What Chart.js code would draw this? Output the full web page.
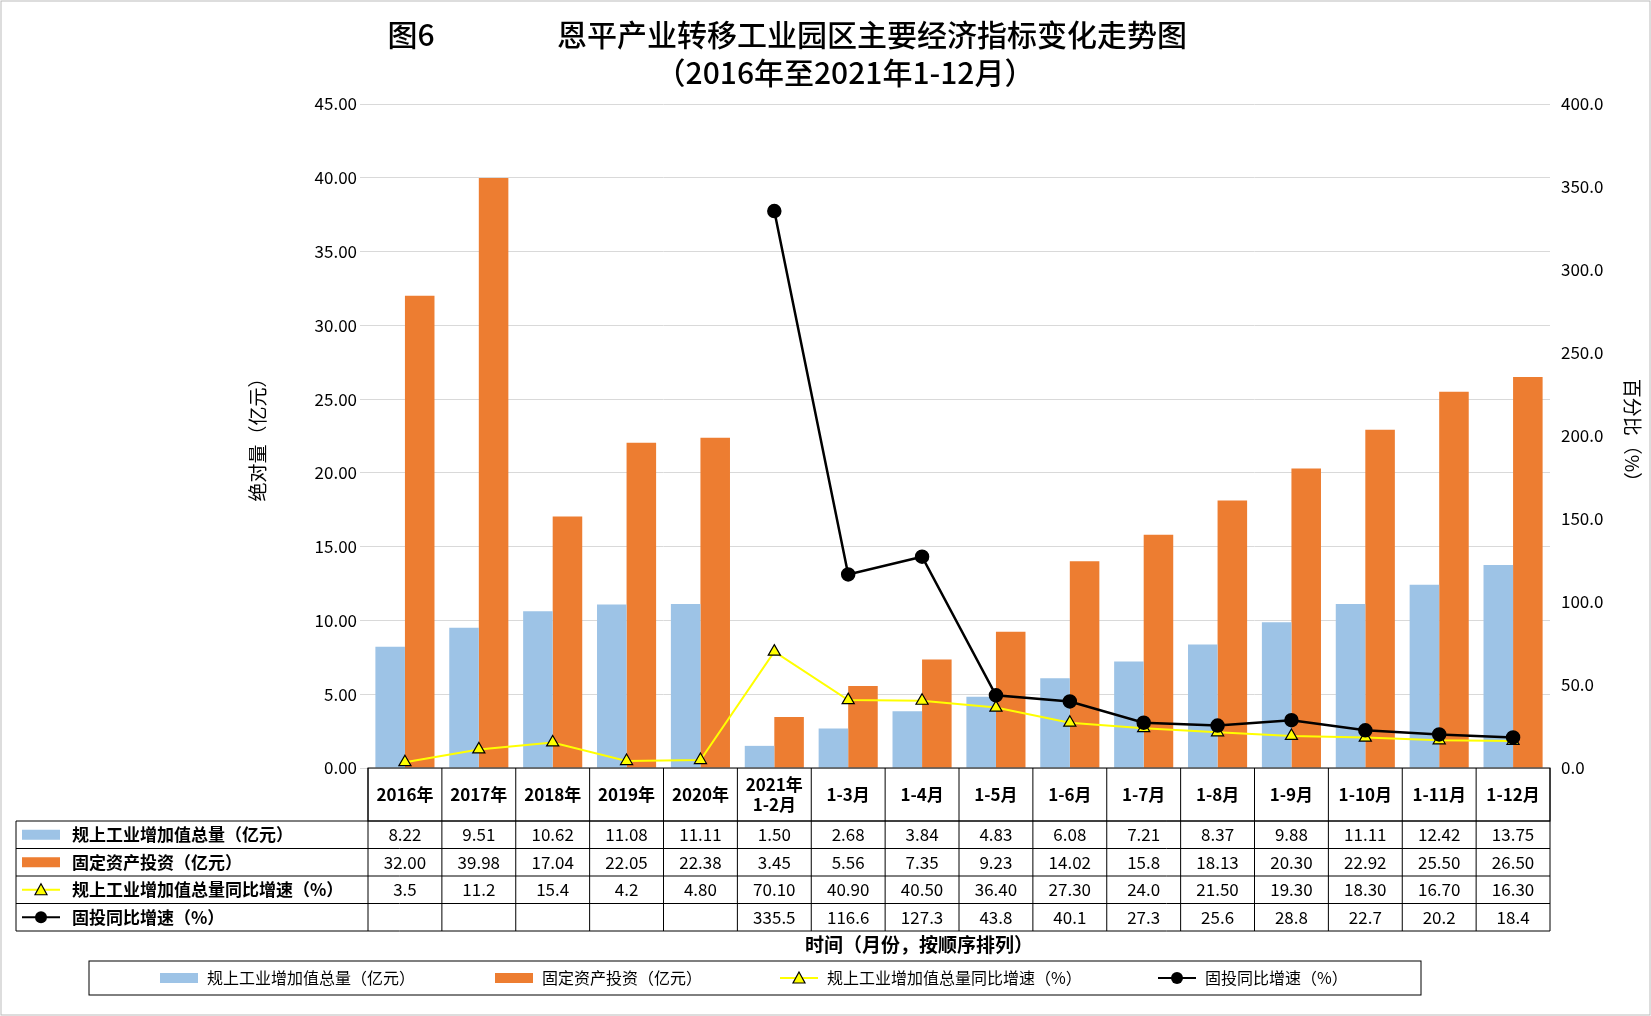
<!DOCTYPE html>
<html><head><meta charset="utf-8">
<script src="https://cdn.jsdelivr.net/npm/chart.js@4"></script>
<style>body{margin:0;background:#fff}#wrap{width:1651px;height:1016px;position:relative}</style>
</head><body>
<div id="wrap"><canvas id="c"></canvas></div>
<script>
// 数据
const categories = ['2016年','2017年','2018年','2019年','2020年','2021年\n1-2月','1-3月','1-4月','1-5月','1-6月','1-7月','1-8月','1-9月','1-10月','1-11月','1-12月'];
const valueAdded = [8.22,9.51,10.62,11.08,11.11,1.50,2.68,3.84,4.83,6.08,7.21,8.37,9.88,11.11,12.42,13.75];
const fixedInvest = [32.00,39.98,17.04,22.05,22.38,3.45,5.56,7.35,9.23,14.02,15.8,18.13,20.30,22.92,25.50,26.50];
const vaGrowth = [3.5,11.2,15.4,4.2,4.80,70.10,40.90,40.50,36.40,27.30,24.0,21.50,19.30,18.30,16.70,16.30];
const fiGrowth = [null,null,null,null,null,335.5,116.6,127.3,43.8,40.1,27.3,25.6,28.8,22.7,20.2,18.4];
// 表格里显示的文字
const vaText = ['8.22','9.51','10.62','11.08','11.11','1.50','2.68','3.84','4.83','6.08','7.21','8.37','9.88','11.11','12.42','13.75'];
const fiText = ['32.00','39.98','17.04','22.05','22.38','3.45','5.56','7.35','9.23','14.02','15.8','18.13','20.30','22.92','25.50','26.50'];
const vgText = ['3.5','11.2','15.4','4.2','4.80','70.10','40.90','40.50','36.40','27.30','24.0','21.50','19.30','18.30','16.70','16.30'];
const fgText = ['','','','','','335.5','116.6','127.3','43.8','40.1','27.3','25.6','28.8','22.7','20.2','18.4'];
const names = ['规上工业增加值总量（亿元）','固定资产投资（亿元）','规上工业增加值总量同比增速（%）','固投同比增速（%）'];

const FONT = '"Noto Sans CJK SC", sans-serif';
const BLUE = '#9dc3e6', ORANGE = '#ed7d31';

function drawKey(ctx, i, x, y) {
  // 图例小符号
  ctx.save();
  if (i < 2) {
    ctx.fillStyle = i == 0 ? BLUE : ORANGE;
    ctx.fillRect(x, y - 5, 38, 10);
  } else {
    ctx.strokeStyle = i == 2 ? '#ffff00' : '#000';
    ctx.lineWidth = 2;
    ctx.beginPath(); ctx.moveTo(x, y); ctx.lineTo(x + 38, y); ctx.stroke();
    if (i == 2) {
      ctx.fillStyle = '#ffff00'; ctx.strokeStyle = '#000'; ctx.lineWidth = 1.2;
      ctx.beginPath(); ctx.moveTo(x + 19, y - 6); ctx.lineTo(x + 25, y + 5); ctx.lineTo(x + 13, y + 5); ctx.closePath(); ctx.fill(); ctx.stroke();
    } else {
      ctx.fillStyle = '#000';
      ctx.beginPath(); ctx.arc(x + 19, y, 6, 0, Math.PI * 2); ctx.fill();
    }
  }
  ctx.restore();
}

const tablePlugin = {
  id: 'table',
  afterDraw(chart) {
    const ctx = chart.ctx, a = chart.chartArea;
    const n = categories.length, w = (a.right - a.left) / n;
    const top = a.bottom, catH = 53, rowH = 27.5, labelL = 16;
    ctx.save();
    // 标题
    ctx.fillStyle = '#000'; ctx.textAlign = 'center'; ctx.textBaseline = 'middle';
    ctx.font = '500 30px ' + FONT;
    ctx.fillText('图6', 411, 35);
    ctx.fillText('恩平产业转移工业园区主要经济指标变化走势图', 872, 35);
    ctx.fillText('（2016年至2021年1-12月）', 845, 73);
    // 轴标题
    ctx.font = '19px ' + FONT;
    ctx.save(); ctx.translate(258, 435); ctx.rotate(-Math.PI / 2); ctx.fillText('绝对量（亿元）', 0, 0); ctx.restore();
    ctx.save(); ctx.translate(1632, 435); ctx.rotate(Math.PI / 2); ctx.fillText('百分比（%）', 0, 0); ctx.restore();
    // 表格线
    ctx.strokeStyle = '#000'; ctx.lineWidth = 1;
    const bottom = top + catH + rowH * 4;
    ctx.strokeRect(a.left, top, a.right - a.left, catH);
    for (let r = 0; r <= 4; r++) {
      const y = top + catH + r * rowH;
      ctx.beginPath(); ctx.moveTo(labelL, y); ctx.lineTo(a.right, y); ctx.stroke();
    }
    ctx.beginPath(); ctx.moveTo(labelL, top + catH); ctx.lineTo(labelL, bottom); ctx.stroke();
    for (let i = 0; i <= n; i++) {
      const x = a.left + i * w;
      ctx.beginPath(); ctx.moveTo(x, top); ctx.lineTo(x, bottom); ctx.stroke();
    }
    // 分类
    ctx.font = 'bold 17px ' + FONT; ctx.fillStyle = '#000';
    categories.forEach((c, i) => {
      const x = chart.scales.x.getPixelForValue(i);
      const parts = c.split('\n');
      parts.forEach((p, k) => ctx.fillText(p, x, top + catH / 2 + (k - (parts.length - 1) / 2) * 20));
    });
    // 数据行
    const rows = [vaText, fiText, vgText, fgText];
    rows.forEach((row, r) => {
      const y = top + catH + r * rowH + rowH / 2;
      ctx.fillStyle = '#000'; ctx.textAlign = 'center'; ctx.font = '17px ' + FONT;
      row.forEach((t, i) => ctx.fillText(t, chart.scales.x.getPixelForValue(i), y));
      drawKey(ctx, r, 22, y);
      ctx.fillStyle = '#000'; ctx.textAlign = 'left'; ctx.font = 'bold 17px ' + FONT;
      ctx.fillText(names[r], 72, y);
    });
    ctx.fillStyle = '#000'; ctx.textAlign = 'center';
    ctx.font = 'bold 19px ' + FONT;
    ctx.fillText('时间（月份，按顺序排列）', (a.left + a.right) / 2 - 40, bottom + 14);
    // 底部图例
    ctx.strokeRect(89, 961, 1332, 34);
    const lx = [160, 495, 780, 1158];
    ctx.font = '16px ' + FONT;
    names.forEach((nm, i) => {
      drawKey(ctx, i, lx[i], 978);
      ctx.fillStyle = '#000'; ctx.textAlign = 'left';
      ctx.fillText(nm, lx[i] + 47, 978);
    });
    // 外框
    ctx.strokeStyle = '#bbb';
    ctx.strokeRect(1, 1, 1649, 1014);
    ctx.restore();
  }
};

new Chart(document.getElementById('c'), {
  data: {
    labels: categories,
    datasets: [
      { type: 'line', label: names[3], data: fiGrowth, yAxisID: 'y1', borderColor: '#000', backgroundColor: '#000',
        borderWidth: 2.5, pointRadius: 6, pointStyle: 'circle', order: 0 },
      { type: 'line', label: names[2], data: vaGrowth, yAxisID: 'y1', borderColor: '#ffff00', backgroundColor: '#ffff00',
        pointBorderColor: '#000', pointBorderWidth: 1.2, borderWidth: 2, pointRadius: 7, pointStyle: 'triangle', order: 1 },
      { type: 'bar', label: names[0], data: valueAdded, yAxisID: 'y', backgroundColor: BLUE, order: 2,
        categoryPercentage: 0.8, barPercentage: 1 },
      { type: 'bar', label: names[1], data: fixedInvest, yAxisID: 'y', backgroundColor: ORANGE, order: 3,
        categoryPercentage: 0.8, barPercentage: 1 }
    ]
  },
  options: {
    responsive: true, maintainAspectRatio: false, animation: false,
    layout: { padding: { left: 268, right: 0, top: 104, bottom: 240 } },
    plugins: { legend: { display: false }, tooltip: { enabled: false } },
    scales: {
      x: { ticks: { display: false }, grid: { display: false }, border: { display: false } },
      y: { position: 'left', min: 0, max: 45, ticks: { stepSize: 5, color: '#000', font: { size: 17, family: FONT },
             callback: v => v.toFixed(2) },
           grid: { color: '#d9d9d9' }, border: { display: false },
           afterFit: s => { s.width = 100; } },
      y1: { position: 'right', min: 0, max: 400, ticks: { stepSize: 50, color: '#000', font: { size: 17, family: FONT },
              callback: v => v.toFixed(1) },
            grid: { display: false }, border: { display: false },
            afterFit: s => { s.width = 101; } }
    }
  },
  plugins: [tablePlugin]
});
</script>
</body></html>
